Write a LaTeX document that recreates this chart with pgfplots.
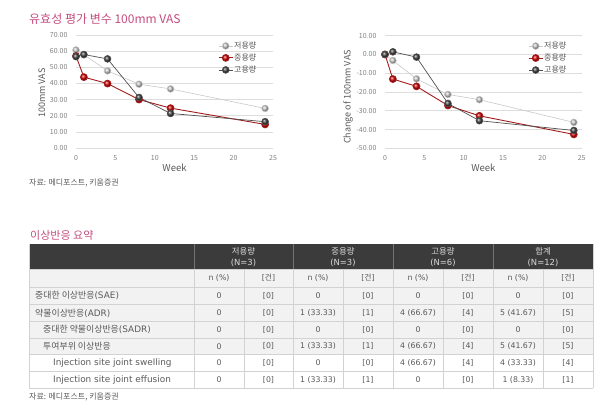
\documentclass[border=0pt]{standalone}
\usepackage{fontspec}
\setmainfont{Noto Sans CJK KR}
\newfontfamily\dv{DejaVu Sans}
\newfontfamily\kr{Noto Sans CJK KR}
\usepackage{pgfplots}
\pgfplotsset{compat=1.18}
\definecolor{ttl}{HTML}{C44C7D}
\definecolor{txt}{HTML}{595959}
\definecolor{tickc}{HTML}{808080}
\definecolor{gridc}{HTML}{DDDDDD}
\definecolor{lowc}{HTML}{C8C8C8}
\definecolor{midc}{HTML}{A01C1C}
\definecolor{highc}{HTML}{505050}
\definecolor{hdr}{HTML}{3B3B3B}
\definecolor{rowbg}{HTML}{F2F2F2}
\definecolor{tline}{HTML}{D2D2D2}
\definecolor{tdata}{HTML}{5A5A5A}

\pgfplotsset{vas/.style={
  scale only axis, width=197pt, height=113pt, xmin=0, xmax=25, xtick={0,5,...,25},
  axis line style={draw=none}, tick style={draw=none},
  ymajorgrids, grid style={gridc, line width=0.6pt},
  /pgf/number format/assume math mode=true,
  ticklabel style={font=\fontsize{7}{8}\selectfont, text=tickc},
  yticklabel={\pgfmathprintnumber[fixed,fixed zerofill,precision=2]{\tick}},
  yticklabel style={xshift=-5pt},
  xticklabel style={yshift=-4pt},
  xlabel={Week}, xlabel style={font=\fontsize{9.5}{10}\selectfont, text=txt, at={(axis description cs:0.5,-0.177)}, anchor=center},
  ylabel style={font=\fontsize{9}{10}\selectfont, text=txt, anchor=center},
  legend style={draw=none, fill=none, font=\fontsize{8}{9}\selectfont, text=txt, anchor=north west,
     row sep=2.5pt, nodes={inner sep=1pt, text height=6pt, text depth=1.5pt}},
  legend cell align=left,
  legend image code/.code={\draw[mark repeat=2,mark phase=2,#1] plot coordinates {(0pt,0pt) (7pt,0pt) (14pt,0pt)};},
  clip=false,
  lowp/.style={lowc, line width=0.6pt, mark=ball, mark size=3.4pt, mark options={ball color=black!22}},
  midp/.style={midc, line width=0.9pt, mark=ball, mark size=3.4pt, mark options={ball color=red!85!black}},
  highp/.style={highc, line width=0.7pt, mark=ball, mark size=3.4pt, mark options={ball color=black!75}},
}}

\newcommand\trow[9]{%
  \node at (219,#1) {#2}; \node at (268.5,#1) {#3};
  \node at (318,#1) {#4}; \node at (368,#1) {#5};
  \node at (418,#1) {#6}; \node at (468,#1) {#7};
  \node at (518,#1) {#8}; \node at (568,#1) {#9};}

\begin{document}
\begin{tikzpicture}
\path[use as bounding box] (0,0) rectangle (611pt,411pt);

% ---------- left chart
\begin{axis}[vas, at={(76pt,263pt)}, anchor=south west,
  ymin=0, ymax=70, ytick={0,10,...,70},
  ylabel={100mm VAS}, ylabel style={at={(axis description cs:-0.173,0.487)}},
  legend style={at={(axis description cs:0.706,0.965)}}]
\addplot[lowp] coordinates {(0,60.7) (1,57.8) (4,47.8) (8,39.5) (12,36.6) (24,24.5)};
\addplot[midp] coordinates {(0,57) (1,43.9) (4,39.9) (8,30) (12,24.7) (24,14.6)};
\addplot[highp] coordinates {(0,56.6) (1,57.9) (4,55.2) (8,31.3) (12,21.4) (24,16.3)};
\legend{저용량, 중용량, 고용량}
\end{axis}

% ---------- right chart
\begin{axis}[vas, at={(385pt,262.7pt)}, anchor=south west, width=196.7pt, height=112.6pt,
  ymin=-50, ymax=10, ytick={-50,-40,...,10},
  ylabel={Change of 100mm VAS}, ylabel style={at={(axis description cs:-0.188,0.456)}},
  legend style={at={(axis description cs:0.712,0.97)}}]
\addplot[lowp] coordinates {(0,0) (1,-3.2) (4,-13) (8,-21.3) (12,-24.1) (24,-36.2)};
\addplot[midp] coordinates {(0,0) (1,-13.1) (4,-17) (8,-27.2) (12,-32.7) (24,-42.6)};
\addplot[highp] coordinates {(0,0) (1,1.4) (4,-1.4) (8,-26.1) (12,-35.3) (24,-40.5)};
\legend{저용량, 중용량, 고용량}
\end{axis}

\begin{scope}[x=1pt, y=-1pt, yshift=411pt]
% titles and sources
\node[anchor=west, inner sep=0pt, text=ttl, font=\fontsize{12}{13}\selectfont] at (29,19) {유효성 평가 변수 100mm VAS};
\node[anchor=west, inner sep=0pt, text=txt, font=\fontsize{8}{9}\selectfont] at (29,183) {자료: 메디포스트, 키움증권};
\node[anchor=west, inner sep=0pt, text=ttl, font=\fontsize{11}{12}\selectfont] at (30,235) {이상반응 요약};
\node[anchor=west, inner sep=0pt, text=txt, font=\fontsize{8}{9}\selectfont] at (29,397) {자료: 메디포스트, 키움증권};

% table backgrounds
\fill[hdr] (29,244) rectangle (593,269.5);
\fill[rowbg] (29,269.5) rectangle (593,354.5);
\foreach \xx in {194,293,393,493} \draw[black!55, line width=0.5pt] (\xx,244) -- (\xx,269.5);
\foreach \yy in {269.5,287,304.5,321.5,338,354.5,371,388.5} \draw[tline, line width=0.6pt] (29,\yy) -- (593,\yy);
\foreach \xx in {29,194,244,293,343,393,443,493,543,593} \draw[tline, line width=0.6pt] (\xx,269.5) -- (\xx,388.5);
\draw[tline, line width=0.6pt] (29,244) -- (29,269.5) (593,244) -- (593,269.5);

% header text
\begin{scope}[every node/.style={text=white!85!black, font=\dv\fontsize{8.4}{9}\selectfont, inner sep=0pt}]
\node at (243.5,251) {\kr 저용량}; \node at (243.5,263) {(N=3)};
\node at (343,251) {\kr 중용량}; \node at (343,263) {(N=3)};
\node at (443,251) {\kr 고용량}; \node at (443,263) {(N=6)};
\node at (543,251) {\kr 합계}; \node at (543,263) {(N=12)};
\end{scope}

\begin{scope}[every node/.style={text=tdata, font=\dv\fontsize{7.8}{9}\selectfont, inner sep=0pt}]
\trow{278.3}{n (\%)}{[{\kr 건}]}{n (\%)}{[{\kr 건}]}{n (\%)}{[{\kr 건}]}{n (\%)}{[{\kr 건}]}
\trow{295.8}{0}{[0]}{0}{[0]}{0}{[0]}{0}{[0]}
\trow{313}{0}{[0]}{1 (33.33)}{[1]}{4 (66.67)}{[4]}{5 (41.67)}{[5]}
\trow{329.8}{0}{[0]}{0}{[0]}{0}{[0]}{0}{[0]}
\trow{346.3}{0}{[0]}{1 (33.33)}{[1]}{4 (66.67)}{[4]}{5 (41.67)}{[5]}
\trow{362.8}{0}{[0]}{0}{[0]}{4 (66.67)}{[4]}{4 (33.33)}{[4]}
\trow{379.8}{0}{[0]}{1 (33.33)}{[1]}{0}{[0]}{1 (8.33)}{[1]}
\end{scope}
\begin{scope}[every node/.style={text=tdata, font=\dv\fontsize{8.9}{10}\selectfont, inner sep=0pt, anchor=west}]
\node at (35,295.8) {{\kr 중대한 이상반응}(SAE)};
\node at (35,313) {{\kr 약물이상반응}(ADR)};
\node at (43,329.8) {{\kr 중대한 약물이상반응}(SADR)};
\node at (43,346.3) {\kr 투여부위 이상반응};
\node at (53,362.8) {Injection site joint swelling};
\node at (53,379.8) {Injection site joint effusion};
\end{scope}
\end{scope}
\end{tikzpicture}
\end{document}
